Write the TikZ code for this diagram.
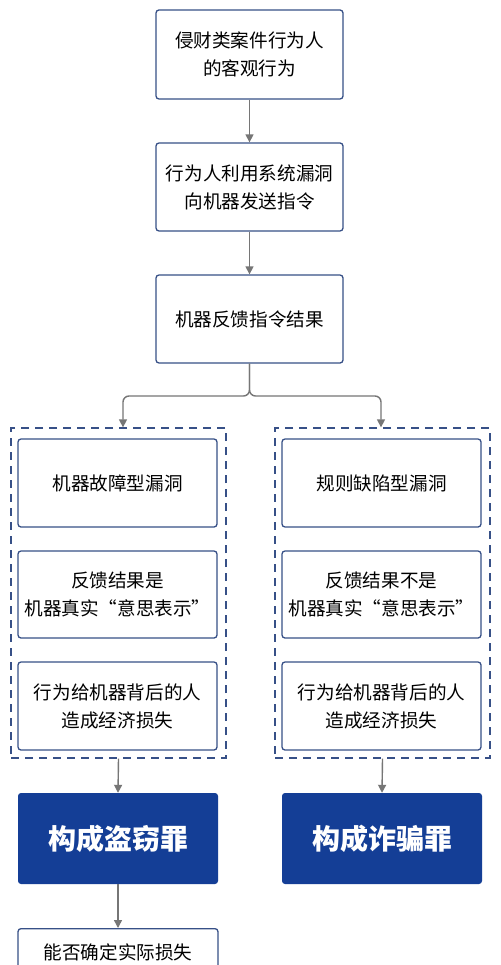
\documentclass[tikz,border=0pt]{standalone}
\usepackage{fontspec}
\setmainfont{Noto Sans CJK SC}
\usetikzlibrary{arrows.meta}
\definecolor{bordc}{RGB}{55,80,135}
\definecolor{darkb}{RGB}{20,62,150}
\definecolor{arrc}{RGB}{118,118,118}
\begin{document}
\begin{tikzpicture}[x=1pt,y=-1pt,
  box/.style={draw=bordc,line width=1.3pt,rounded corners=3pt,fill=white,align=center,
    inner sep=0pt,font=\fontsize{18.6}{28}\selectfont},
  darkbox/.style={fill=darkb,rounded corners=3pt,align=center,inner sep=0pt,text=white,
    font=\fontsize{28}{32}\selectfont\bfseries},
  grp/.style={draw=bordc,line width=1.3pt,dash pattern=on 8pt off 6pt,inner sep=0pt},
  conn/.style={draw=arrc,line width=1.4pt,-{Triangle[length=8pt,width=8pt]}},
]
\useasboundingbox (0,0) rectangle (500,965);
\clip (0,0) rectangle (500,965);
\fill[white] (0,0) rectangle (500,965);
% top column
\node[box,minimum width=187pt,minimum height=89pt] (b1) at (249.5,54.5) {侵财类案件行为人\\的客观行为};
\node[box,minimum width=187pt,minimum height=88pt] (b2) at (249.5,187) {行为人利用系统漏洞\\向机器发送指令};
\node[box,minimum width=187pt,minimum height=88pt] (b3) at (249.5,319) {机器反馈指令结果};
% dashed groups
\node[grp,minimum width=215pt,minimum height=330pt] (gl) at (118.5,593) {};
\node[grp,minimum width=215pt,minimum height=330pt] (gr) at (382.5,593) {};
% inner boxes left
\node[box,minimum width=199pt,minimum height=88pt] (l1) at (117.5,483) {机器故障型漏洞};
\node[box,minimum width=199pt,minimum height=87pt] (l2) at (117.5,594.5) {反馈结果是\\机器真实“意思表示”};
\node[box,minimum width=199pt,minimum height=88pt] (l3) at (117.5,706) {行为给机器背后的人\\造成经济损失};
% inner boxes right
\node[box,minimum width=199pt,minimum height=88pt] (r1) at (381.5,483) {规则缺陷型漏洞};
\node[box,minimum width=199pt,minimum height=87pt] (r2) at (381.5,594.5) {反馈结果不是\\机器真实“意思表示”};
\node[box,minimum width=199pt,minimum height=88pt] (r3) at (381.5,706) {行为给机器背后的人\\造成经济损失};
% dark result boxes
\node[darkbox,minimum width=200pt,minimum height=91pt] (d1) at (118,838.5) {构成盗窃罪};
\node[darkbox,minimum width=200pt,minimum height=91pt] (d2) at (382,838.5) {构成诈骗罪};
% last box (cut off)
\node[box,minimum width=200pt,minimum height=80pt,anchor=north] (q) at (118,928) {};
\node[font=\fontsize{18.6}{28}\selectfont,inner sep=0pt] (qt) at (118,952) {能否确定实际损失};
% connectors
\draw[conn] (b1.south) -- (b2.north);
\draw[conn] (b2.south) -- (b3.north);
\coordinate (j) at (249.5,396);
\draw[conn,rounded corners=6pt] (b3.south) -- (j) -| (gl.north -| 123,0);
\draw[conn,rounded corners=6pt] (b3.south) -- (j) -| (gr.north -| 381,0);
\draw[conn] (gl.south) -- (d1.north);
\draw[conn] (gr.south) -- (d2.north);
\draw[conn] (d1.south) -- (q.north);
\end{tikzpicture}
\end{document}
